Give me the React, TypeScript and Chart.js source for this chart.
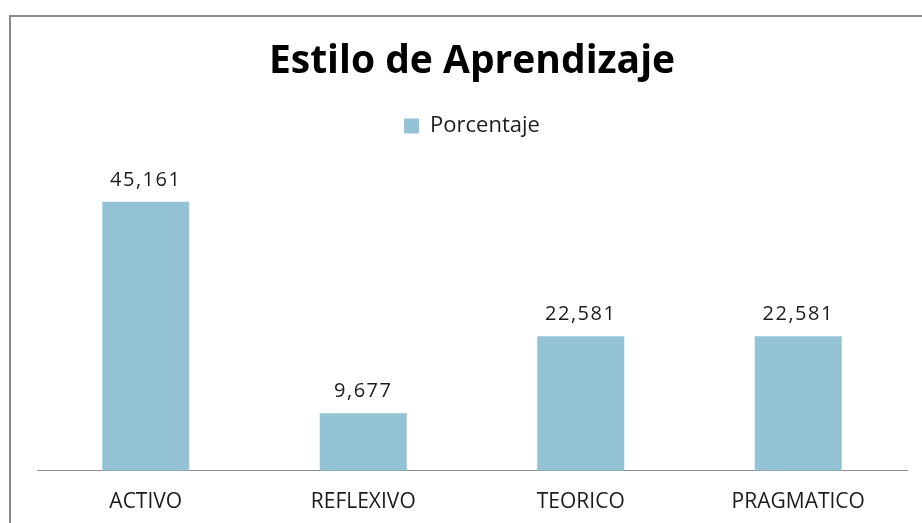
import { useEffect, useRef } from "react";
import { Chart, registerables } from "chart.js";

Chart.register(...registerables);

const categories: string[] = ["ACTIVO", "REFLEXIVO", "TEORICO", "PRAGMATICO"];
const porcentaje: number[] = [45.161, 9.677, 22.581, 22.581];
const seriesName = "Porcentaje";
const titleText = "Estilo de Aprendizaje";
const yMin = 0;
const yMax = 50;

const FONT = "'Open Sans'";
const BAR_COLOR = "#93C3D4";
const TEXT_COLOR = "#1c1c1c";

const fmt = (v: number) => v.toFixed(3).replace(".", ",");

const framePlugin = {
  id: "frame",
  beforeDraw(chart: any) {
    const ctx = chart.ctx;
    ctx.save();
    ctx.fillStyle = "#ffffff";
    ctx.fillRect(0, 0, chart.width, chart.height);
    ctx.fillStyle = "#8a8a8a";
    ctx.fillRect(9, 15, 2, chart.height - 15);
    ctx.fillRect(9, 15, chart.width - 9, 2);
    ctx.restore();
  },
};

const labelPlugin = {
  id: "barLabels",
  afterDatasetsDraw(chart: any) {
    const ctx = chart.ctx;
    ctx.save();
    ctx.font = `20px ${FONT}`;
    ctx.fillStyle = TEXT_COLOR;
    ctx.textAlign = "center";
    ctx.textBaseline = "alphabetic";
    try { (ctx as any).letterSpacing = "1.5px"; } catch (e) {}
    const meta = chart.getDatasetMeta(0);
    meta.data.forEach((bar: any, i: number) => {
      const v = chart.data.datasets[0].data[i] as number;
      ctx.fillText(fmt(v), bar.x, bar.y - 16);
    });
    ctx.restore();
  },
};

export default function App() {
  const ref = useRef<HTMLCanvasElement | null>(null);
  useEffect(() => {
    document.body.style.margin = "0";
    if (!ref.current) return;
    const chart = new Chart(ref.current, {
      type: "bar",
      data: {
        labels: categories,
        datasets: [
          {
            label: seriesName,
            data: porcentaje,
            backgroundColor: BAR_COLOR,
            borderWidth: 0,
            categoryPercentage: 1,
            barPercentage: 0.4,
          },
        ],
      },
      options: {
        animation: false,
        responsive: false,
        maintainAspectRatio: false,
        layout: { padding: { left: 37, right: 15, top: 0, bottom: -11 } },
        plugins: {
          title: {
            display: true,
            text: titleText,
            color: "#000000",
            font: { family: FONT, size: 39, weight: "bold", lineHeight: 1 },
            padding: { top: 42, bottom: 0 },
          },
          subtitle: {
            display: true,
            text: " ",
            weight: 500,
            font: { size: 1, lineHeight: 1 },
            padding: { top: 25, bottom: 0 },
          } as any,
          legend: {
            display: true,
            position: "top",
            labels: {
              color: TEXT_COLOR,
              font: { family: FONT, size: 22 },
              boxWidth: 15,
              boxHeight: 15,
              padding: 34,
            },
          },
          tooltip: { enabled: false },
        },
        scales: {
          x: {
            grid: { display: false, drawTicks: false },
            border: { display: true, color: "#8c8c8c", width: 1 },
            ticks: {
              color: TEXT_COLOR,
              font: { family: FONT, size: 21 },
              padding: 19,
              maxRotation: 0,
            },
          },
          y: {
            display: false,
            min: yMin,
            max: yMax,
          },
        },
      },
      plugins: [framePlugin, labelPlugin],
    });
    return () => chart.destroy();
  }, []);
  return (
    <div style={{ width: 922, height: 523 }}>
      <canvas ref={ref} width={922} height={523} style={{ display: "block" }} />
    </div>
  );
}
